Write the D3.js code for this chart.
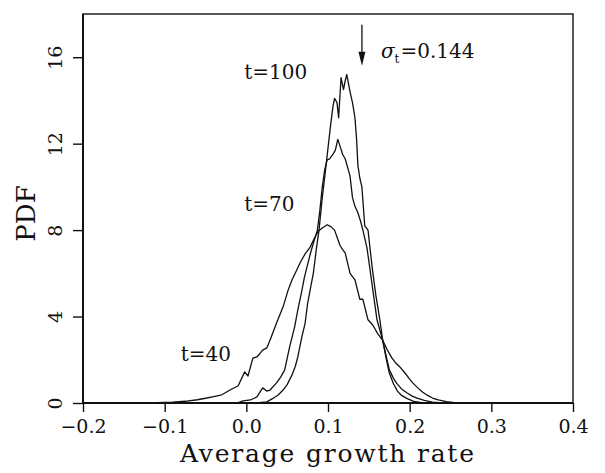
<!DOCTYPE html>
<html>
<head>
<meta charset="utf-8">
<script src="https://cdn.jsdelivr.net/npm/d3@7"></script>
<style>
  html, body { margin: 0; padding: 0; background: #fff; }
  svg { display: block; }
  text { font-family: "DejaVu Serif", "Liberation Serif", serif; fill: #111; }
</style>
</head>
<body>
<svg id="chart" width="605" height="473"></svg>
<script>
// ---------- data ----------
const xTicks = [-0.2, -0.1, 0.0, 0.1, 0.2, 0.3, 0.4];
const yTicks = [0, 4, 8, 12, 16];
const xDomain = [-0.2, 0.4];
const yDomain = [0, 18];

const seriesNames = ["t=40", "t=70", "t=100"];

const x40 = [-0.13,-0.11,-0.09,-0.075,-0.06,-0.05,-0.04,-0.03,-0.02,-0.01,-0.002,0.002,0.008,0.013,0.02,0.025,0.029,0.037,0.045,0.051,0.056,0.061,0.066,0.072,0.078,0.083,0.088,0.093,0.099,0.104,0.108,0.1146,0.118,0.121,0.127,0.133,0.139,0.1427,0.149,0.155,0.161,0.167,0.172,0.178,0.183,0.188,0.194,0.199,0.204,0.21,0.216,0.222,0.228,0.235,0.245,0.255,0.27];
const y40 = [0,0.02,0.04,0.08,0.15,0.22,0.3,0.38,0.6,0.8,1.44,1.25,2.08,2.13,2.45,2.55,2.9,3.7,4.45,5.2,5.7,6.1,6.5,6.9,7.2,7.6,7.95,8.1,8.25,8.15,8.0,7.3,7.1,6.95,6.0,5.7,4.8,4.8,3.85,3.6,3.2,2.9,2.5,2.1,1.85,1.67,1.4,1.15,0.92,0.7,0.5,0.35,0.23,0.14,0.06,0.02,0];

const x70 = [-0.03,-0.01,-0.004,0.005,0.013,0.02,0.025,0.029,0.037,0.042,0.047,0.053,0.059,0.063,0.068,0.071,0.075,0.079,0.083,0.087,0.09,0.093,0.096,0.099,0.102,0.106,0.109,0.112,0.1146,0.118,0.121,0.124,0.127,0.13,0.133,0.1366,0.14,0.1427,0.1476,0.151,0.155,0.16,0.164,0.167,0.171,0.175,0.18,0.184,0.19,0.197,0.203,0.209,0.218,0.228,0.24];
const y70 = [0,0.02,0.1,0.14,0.28,0.7,0.55,0.6,0.93,1.2,1.53,2.6,3.5,4.3,5.2,5.8,6.4,7.0,7.5,8.0,8.9,10.0,10.8,11.25,11.3,11.5,11.7,12.2,11.9,11.5,11.3,10.9,10.5,9.5,9.1,8.8,8.4,8.0,7.2,6.3,5.2,3.85,3.3,2.9,2.2,1.55,1.15,0.92,0.65,0.46,0.32,0.23,0.12,0.04,0];

const x100 = [0.0,0.015,0.025,0.032,0.039,0.045,0.05,0.056,0.06,0.063,0.068,0.072,0.075,0.078,0.082,0.086,0.089,0.093,0.097,0.1,0.103,0.106,0.108,0.111,0.113,0.116,0.119,0.121,0.123,0.125,0.127,0.13,0.133,0.135,0.1366,0.139,0.1415,0.145,0.149,0.154,0.1585,0.1635,0.167,0.171,0.175,0.18,0.185,0.19,0.197,0.205,0.215,0.225];
const y100 = [0,0.02,0.05,0.2,0.37,0.6,0.85,1.3,1.7,2.13,3.06,3.7,4.6,5.2,6.0,7.2,8.0,9.5,10.8,11.8,12.8,13.7,14.1,13.9,13.2,15.06,14.5,14.9,15.2,14.8,14.4,13.9,13.2,12.2,11.0,10.4,10.0,8.2,8.0,6.3,5.0,3.85,2.9,2.1,1.4,0.9,0.55,0.35,0.2,0.08,0.02,0];

// annotations
const labels = [
  { text: "t=100", x: 0.0, y: 15.0 },
  { text: "t=70",  x: 0.0, y: 8.9 },
  { text: "t=40",  x: -0.078, y: 1.95 }
];
const sigmaValue = 0.144;
const sigmaText = "=0.144";
const arrowTop = 17.5, arrowTip = 15.6;

// ---------- layout ----------
const margin = { left: 83, right: 32, top: 14, bottom: 70 };
const W = 605, H = 473;
const svg = d3.select("#chart");

const x = d3.scaleLinear().domain(xDomain).range([margin.left, W - margin.right]);
const y = d3.scaleLinear().domain(yDomain).range([H - margin.bottom, margin.top]);

// frame
const x0 = x.range()[0], x1 = x.range()[1], yb = y.range()[0], yt = y.range()[1];
svg.append("rect").attr("x", x0).attr("y", yt).attr("width", x1 - x0).attr("height", yb - yt)
  .attr("fill", "none").attr("stroke", "#111").attr("stroke-width", 1.4);
svg.append("line").attr("x1", x0).attr("x2", x0).attr("y1", yt).attr("y2", yb)
  .attr("stroke", "#111").attr("stroke-width", 2);
svg.append("line").attr("x1", x0).attr("x2", x1).attr("y1", yb).attr("y2", yb)
  .attr("stroke", "#111").attr("stroke-width", 1.8);

// x axis
const fmtX = d3.format(".1f");
const xAxis = d3.axisBottom(x).tickValues(xTicks).tickSize(9).tickPadding(8).tickFormat(fmtX);
const gx = svg.append("g").attr("transform", `translate(0,${yb})`).call(xAxis);
gx.select(".domain").remove();
gx.selectAll(".tick line").attr("stroke", "#111").attr("stroke-width", 1.4);
gx.selectAll(".tick text").attr("font-family", "DejaVu Serif").attr("font-size", 19).attr("fill", "#111");

// y axis
const yAxis = d3.axisLeft(y).tickValues(yTicks).tickSize(10).tickPadding(0).tickFormat(d3.format("d"));
const gy = svg.append("g").attr("transform", `translate(${x0},0)`).call(yAxis);
gy.select(".domain").remove();
gy.selectAll(".tick line").attr("stroke", "#111").attr("stroke-width", 1.4);
gy.selectAll(".tick text")
  .attr("font-family", "DejaVu Serif").attr("font-size", 19).attr("fill", "#111")
  .attr("x", null).attr("dy", null)
  .attr("text-anchor", "middle")
  .attr("transform", "translate(-21,0) rotate(-90)");

// axis titles
svg.append("text")
  .attr("x", (x0 + x1) / 2 - 1).attr("y", 462)
  .attr("text-anchor", "middle").attr("font-size", 25)
  .attr("textLength", 294).attr("lengthAdjust", "spacing")
  .text("Average growth rate");
svg.append("text")
  .attr("transform", `translate(35,${(yt + yb) / 2 + 5}) rotate(-90)`)
  .attr("text-anchor", "middle").attr("font-size", 26)
  .text("PDF");

// curves
const line = d3.line().x(d => x(d[0])).y(d => y(d[1]));
const series = [
  d3.zip(x40, y40),
  d3.zip(x70, y70),
  d3.zip(x100, y100)
];
svg.append("g").selectAll("path").data(series).join("path")
  .attr("d", line).attr("fill", "none").attr("stroke", "#111")
  .attr("stroke-width", 1.3).attr("stroke-linejoin", "round");

// labels
svg.append("g").selectAll("text").data(labels).join("text")
  .attr("x", d => x(d.x) - 2).attr("y", d => y(d.y))
  .attr("font-size", 20)
  .text(d => d.text);

// sigma arrow
const ax = x(sigmaValue) - 2;
svg.append("line").attr("x1", ax).attr("x2", ax)
  .attr("y1", y(arrowTop)).attr("y2", y(arrowTip) - 10)
  .attr("stroke", "#111").attr("stroke-width", 1.3);
svg.append("path")
  .attr("d", `M${ax - 3.5},${y(arrowTip) - 14} L${ax + 3.5},${y(arrowTip) - 14} L${ax},${y(arrowTip)} Z`)
  .attr("fill", "#111");
const st = svg.append("text").attr("x", ax + 19).attr("y", 58).attr("font-size", 20);
st.append("tspan").attr("font-style", "italic").text("σ");
st.append("tspan").attr("font-size", 12).attr("dy", 5).text("t");
st.append("tspan").attr("dy", -5).attr("dx", 1).text(sigmaText);
</script>
</body>
</html>
